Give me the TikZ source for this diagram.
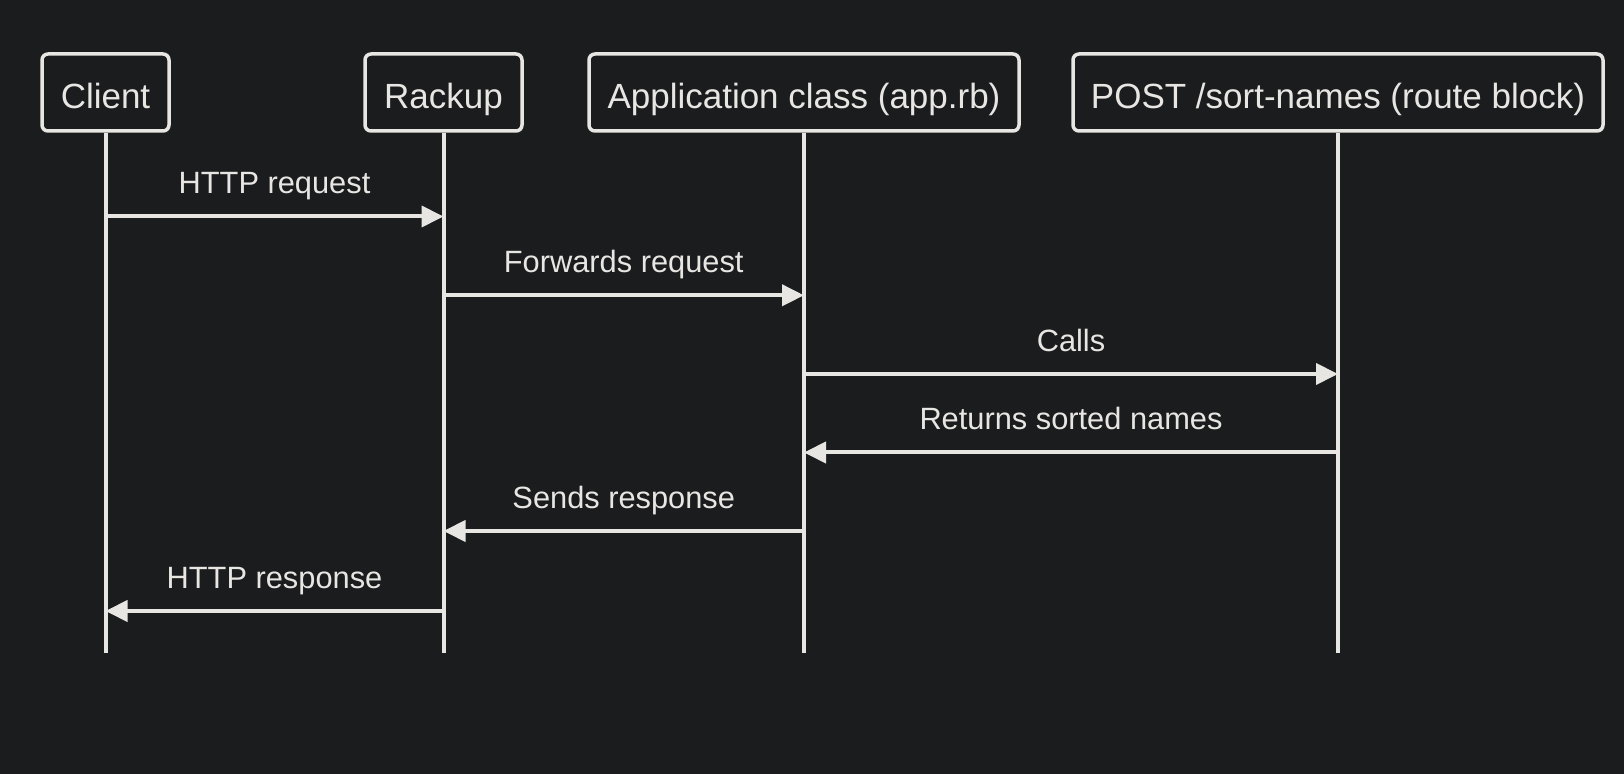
\documentclass[tikz,border=0pt]{standalone}
\usepackage{fontspec}
\setmainfont{Liberation Sans}
\usetikzlibrary{arrows.meta}
\definecolor{bg}{RGB}{27,28,30}
\definecolor{fg}{RGB}{232,230,227}
\tikzset{
  actor/.style={draw=fg, line width=1.75pt, rounded corners=3pt, fill=bg, text=fg,
    minimum height=38.5pt, inner sep=0pt, text height=16pt, text depth=0pt,
    font=\fontsize{17.5}{20}\selectfont},
  life/.style={draw=fg, line width=2pt},
  msg/.style={draw=fg, line width=2pt, -{Triangle[length=11pt,width=10.5pt]}},
  lbl/.style={text=fg, font=\fontsize{15.4}{18}\selectfont, inner sep=0pt, anchor=base}
}
\begin{document}
\begin{tikzpicture}[x=0.5pt,y=-0.5pt]
\useasboundingbox[fill=bg] (0,0) rectangle (1624,774);
% actors
\node[actor, minimum width=63.5pt] (client) at (105.5,92.5) {Client};
\node[actor, minimum width=78.5pt] (rack) at (443.5,92.5) {Rackup};
\node[actor, minimum width=215pt] (app) at (804,92.5) {Application class (app.rb)};
\node[actor, minimum width=265pt] (post) at (1338,92.5) {POST /sort-names (route block)};
% lifeline ends
\coordinate (clientE) at (105.5,653.5);
\coordinate (rackE) at (443.5,653.5);
\coordinate (appE) at (804,653.5);
\coordinate (postE) at (1338,653.5);
\draw[life] (client.south) -- (clientE);
\draw[life] (rack.south) -- (rackE);
\draw[life] (app.south) -- (appE);
\draw[life] (post.south) -- (postE);
% message points
\coordinate (c1) at (105.5,216.5); \coordinate (r1) at (443.5,216.5);
\coordinate (r2) at (443.5,295.3); \coordinate (a2) at (804,295.3);
\coordinate (a3) at (804,374);     \coordinate (p3) at (1338,374);
\coordinate (p4) at (1338,452.5);  \coordinate (a4) at (804,452.5);
\coordinate (a5) at (804,531);     \coordinate (r5) at (443.5,531);
\coordinate (r6) at (443.5,611);   \coordinate (c6) at (105.5,611);
% messages
\draw[msg] (c1) -- (r1);
\node[lbl] (l1) at (274.5,193.8) {HTTP request};
\draw[msg] (r2) -- (a2);
\node[lbl] (l2) at (623.75,272.6) {Forwards request};
\draw[msg] (a3) -- (p3);
\node[lbl] (l3) at (1071,351.3) {Calls};
\draw[msg] (p4) -- (a4);
\node[lbl] (l4) at (1071,429.8) {Returns sorted names};
\draw[msg] (a5) -- (r5);
\node[lbl] (l5) at (623.75,508.3) {Sends response};
\draw[msg] (r6) -- (c6);
\node[lbl] (l6) at (274.5,588.3) {HTTP response};
\end{tikzpicture}
\end{document}
